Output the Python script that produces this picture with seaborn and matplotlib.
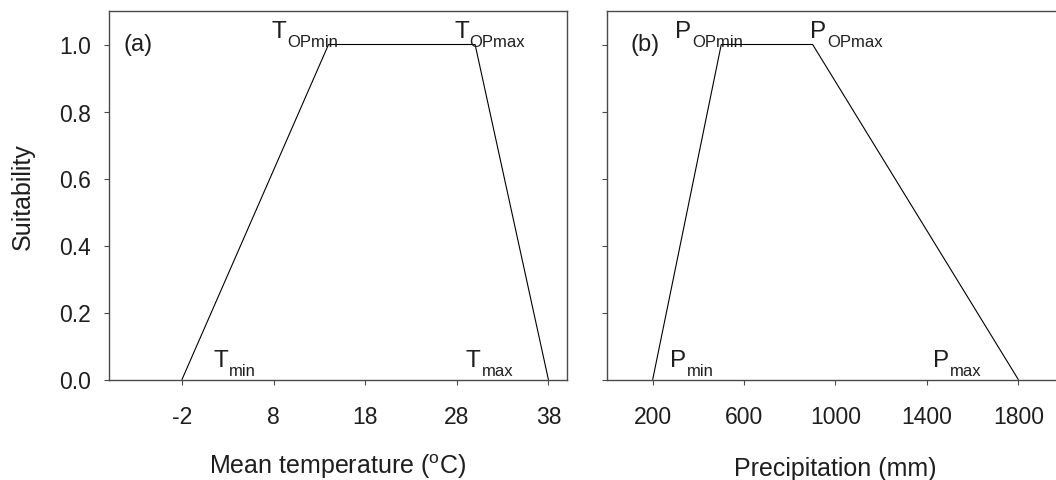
import seaborn as sns
import pandas as pd
import matplotlib
matplotlib.use('Agg')
import matplotlib.pyplot as plt

# Trapezoid suitability curves
temp_x = [-2, 14, 30, 38]
temp_y = [0, 1, 1, 0]
precip_x = [200, 500, 900, 1800]
precip_y = [0, 1, 1, 0]

temp_ticks = [-2, 8, 18, 28, 38]
precip_ticks = [200, 600, 1000, 1400, 1800]
suit_ticks = [0.0, 0.2, 0.4, 0.6, 0.8, 1.0]

# threshold labels: main letter + subscript
label_subs = ['OPmin', 'OPmax', 'min', 'max']
temp_pos = [(7.8, 1.022), (27.7, 1.022), (1.45, 0.041), (29.0, 0.041)]
precip_pos = [(299, 1.022), (889, 1.022), (277, 0.04), (1428, 0.04)]

sns.set_theme(style='ticks')
plt.rcParams['font.family'] = ['Liberation Sans', 'DejaVu Sans']
plt.rcParams['mathtext.fontset'] = 'custom'
plt.rcParams['mathtext.rm'] = 'Liberation Sans'
plt.rcParams['mathtext.it'] = 'Liberation Sans:italic'
plt.rcParams['mathtext.bf'] = 'Liberation Sans:bold'
txt_col = '#1e1e1e'
plt.rcParams['text.color'] = txt_col
plt.rcParams['axes.labelcolor'] = txt_col
plt.rcParams['xtick.labelcolor'] = txt_col
plt.rcParams['ytick.labelcolor'] = txt_col

spine_col = '#4a4a4a'
tick_fs = 16.5
label_fs = 18
ann_fs = 17.5
sub_fs = 12

fig = plt.figure(figsize=(10.56, 4.81), dpi=100)
W, H = 1056, 481
ax1 = fig.add_axes([108.7 / W, (H - 380.5) / H, 458 / W, 368.5 / H])
ax2 = fig.add_axes([607 / W, (H - 380.5) / H, 449 / W, 368.5 / H])

temp_df = pd.DataFrame({'x': temp_x, 'y': temp_y})
precip_df = pd.DataFrame({'x': precip_x, 'y': precip_y})

sns.lineplot(data=temp_df, x='x', y='y', ax=ax1, color='black', lw=0.8, sort=False, estimator=None)
sns.lineplot(data=precip_df, x='x', y='y', ax=ax2, color='black', lw=0.8, sort=False, estimator=None)

ax1.set_xlim(-10, 40)
ax2.set_xlim(0, 1965)
for ax in (ax1, ax2):
    ax.set_ylim(0, 1.1)
    ax.set_yticks(suit_ticks)
    for s in ax.spines.values():
        s.set_color(spine_col)
        s.set_linewidth(1.0)
    ax.tick_params(axis='x', length=3.6, width=0.8, color=spine_col, pad=14.5, labelsize=tick_fs)
    ax.tick_params(axis='y', length=3.6, width=0.8, color=spine_col, pad=9, labelsize=tick_fs)

ax2.spines['right'].set_visible(False)

ax1.set_xticks(temp_ticks)
ax1.set_xticklabels([str(t) for t in temp_ticks])
ax1.set_yticklabels([f'{t:.1f}' for t in suit_ticks])
ax2.set_xticks(precip_ticks)
ax2.set_yticklabels([])

ax1.set_xlabel(r'Mean temperature ($^{\mathrm{o}}$C)', fontsize=label_fs, va='baseline')
ax1.xaxis.set_label_coords(0.5, -0.253)
ax1.set_ylabel('Suitability', fontsize=label_fs, va='center')
ax1.yaxis.set_label_coords(-0.188, 0.5)
ax2.set_xlabel('Precipitation (mm)', fontsize=label_fs, va='baseline')
ax2.xaxis.set_label_coords(0.509, -0.258)
ax2.set_ylabel('')

# panel tags
ax1.text(-8.4, 1.0, '(a)', fontsize=tick_fs + 0.5, va='center')
ax2.text(102, 1.0, '(b)', fontsize=tick_fs + 0.5, va='center')


def threshold_label(ax, letter, sub, x, y, sub_dx):
    ax.text(x, y, letter, fontsize=ann_fs, va='baseline')
    ax.annotate(sub, xy=(x, y), xycoords='data', xytext=(sub_dx, -6.3),
                textcoords='offset points', fontsize=sub_fs, va='baseline')


for sub, (x, y) in zip(label_subs, temp_pos):
    threshold_label(ax1, 'T', sub, x, y, 11.3)
for sub, (x, y) in zip(label_subs, precip_pos):
    threshold_label(ax2, 'P', sub, x, y, 12.0)

fig.savefig('out.png', dpi=100)
